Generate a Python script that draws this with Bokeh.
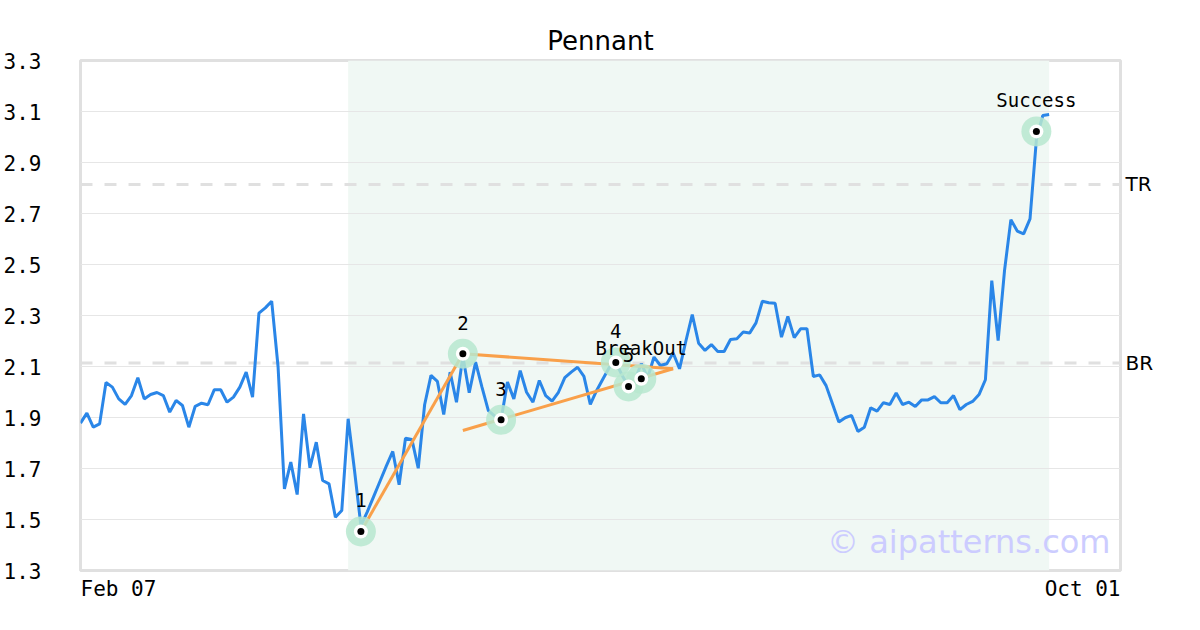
from bokeh.plotting import figure
from bokeh.models import Range1d, FixedTicker, BoxAnnotation, Span, Label, LinearAxis
from bokeh.core.properties import value
from bokeh.embed import file_html
from bokeh.resources import INLINE

title = "Pennant"
x_tick_labels = ["Feb 07", "Oct 01"]
x_end = 163.2  # index of Oct 01 (trading days since Feb 07)

prices = [
    1.878, 1.917, 1.862, 1.875, 2.037, 2.019, 1.973, 1.951, 1.986, 2.056,
    1.973, 1.990, 1.998, 1.986, 1.921, 1.967, 1.947, 1.862, 1.944, 1.956,
    1.950, 2.009, 2.009, 1.960, 1.980, 2.019, 2.078, 1.980, 2.309, 2.330,
    2.356, 2.100, 1.620, 1.725, 1.598, 1.914, 1.703, 1.803, 1.653, 1.640,
    1.509, 1.535, 1.895, 1.692, 1.476, 1.530, 1.590, 1.650, 1.710, 1.767,
    1.636, 1.819, 1.814, 1.701, 1.950, 2.065, 2.042, 1.912, 2.078, 1.960,
    2.140, 1.997, 2.117, 2.019, 1.927, 1.905, 1.891, 2.039, 1.973, 2.084,
    1.999, 1.960, 2.045, 1.986, 1.964, 1.999, 2.056, 2.078, 2.097, 2.061,
    1.951, 2.006, 2.052, 2.097, 2.116, 2.065, 2.022, 2.048, 2.111, 2.056,
    2.137, 2.104, 2.111, 2.153, 2.091, 2.200, 2.304, 2.191, 2.163, 2.186,
    2.159, 2.159, 2.206, 2.209, 2.235, 2.231, 2.271, 2.356, 2.350, 2.348,
    2.215, 2.296, 2.213, 2.248, 2.248, 2.061, 2.067, 2.025, 1.954, 1.882,
    1.899, 1.908, 1.845, 1.862, 1.938, 1.925, 1.958, 1.951, 1.996, 1.951,
    1.960, 1.943, 1.969, 1.969, 1.982, 1.958, 1.958, 1.986, 1.931, 1.951,
    1.963, 1.990, 2.048, 2.437, 2.202, 2.476, 2.676, 2.631, 2.620, 2.679,
    2.990, 3.084, 3.088,
]
days = list(range(len(prices)))

y_ticks = [1.3, 1.5, 1.7, 1.9, 2.1, 2.3, 2.5, 2.7, 2.9, 3.1, 3.3]
levels = [2.814, 2.114]
level_names = ["TR", "BR"]

pattern_start = 42
pattern_end = 152

point_idx = [44, 60, 66, 84, 86, 88, 150]
point_val = [1.453, 2.150, 1.891, 2.116, 2.022, 2.052, 3.022]
point_lbl = ["1", "2", "3", "4", "5", "BreakOut", "Success"]

trend_x0 = [44, 60, 60]
trend_y0 = [1.453, 2.150, 1.849]
trend_x1 = [60, 93, 93]
trend_y1 = [2.150, 2.091, 2.091]

watermark = "\u00a9 aipatterns.com"

MONO = "DejaVu Sans Mono"
W, H = 1190, 625
BL, BR_, BT, BB = 80, 70, 60, 55
TICK_FONT_PX = 21

p = figure(width=W, height=H,
           x_range=Range1d(0, x_end), y_range=Range1d(y_ticks[0], y_ticks[-1]),
           output_backend="svg", toolbar_location=None, x_axis_location=None,
           min_border_left=BL, min_border_right=BR_, min_border_top=BT, min_border_bottom=BB,
           title=title)
p.background_fill_color = "white"
p.border_fill_color = "white"
p.outline_line_color = "#e0e0e0"
p.outline_line_width = 3

p.title.text_font = "DejaVu Sans"
p.title.text_font_size = "26px"
p.title.text_font_style = "normal"
p.title.align = "center"
p.title.text_color = "black"
p.title.standoff = 10

yax = p.yaxis[0]
yax.ticker = FixedTicker(ticks=y_ticks)
yax.axis_line_color = None
yax.major_tick_line_color = None
yax.minor_tick_line_color = None
yax.major_label_standoff = 33
yax.major_label_text_font = MONO
yax.major_label_text_font_size = f"{TICK_FONT_PX}px"
yax.major_label_text_color = "black"

p.ygrid.ticker = FixedTicker(ticks=y_ticks)
p.ygrid.grid_line_color = "#e6e6e6"
p.ygrid.grid_line_width = 1
p.xgrid.visible = False

# bottom axis: first date label sits flush with the left edge, last flush with the right
frame_w = W - BL - BR_
units_per_px = x_end / frame_w
half_w = [len(s) * 0.602 * TICK_FONT_PX / 2 for s in x_tick_labels]
x_tick_pos = [0 + half_w[0] * units_per_px, x_end - half_w[1] * units_per_px]
bax = LinearAxis(ticker=FixedTicker(ticks=x_tick_pos),
                 major_label_overrides=dict(zip(x_tick_pos, x_tick_labels)))
bax.axis_line_color = None
bax.major_tick_line_color = None
bax.minor_tick_line_color = None
bax.major_tick_out = 0
bax.major_tick_in = 0
bax.major_label_standoff = 6
bax.major_label_text_font = MONO
bax.major_label_text_font_size = f"{TICK_FONT_PX}px"
bax.major_label_text_color = "black"
p.add_layout(bax, "below")

rax = LinearAxis(ticker=FixedTicker(ticks=levels),
                 major_label_overrides=dict(zip(levels, level_names)))
rax.axis_line_color = None
rax.major_tick_line_color = None
rax.minor_tick_line_color = None
rax.major_tick_out = 0
rax.major_tick_in = 0
rax.major_label_standoff = 5
rax.major_label_text_font = "DejaVu Sans"
rax.major_label_text_font_size = "20px"
rax.major_label_text_color = "black"
p.add_layout(rax, "right")

p.add_layout(BoxAnnotation(left=pattern_start, right=pattern_end, fill_color="#f0f8f4",
                           fill_alpha=1.0, line_color=None, level="image"))

for lv in levels:
    p.add_layout(Span(location=lv, dimension="width", line_color="#e0e0e0",
                      line_width=3, line_dash="12 12", level="underlay"))

p.line(days, prices, line_color="#2a86e8", line_width=3)
p.segment(trend_x0, trend_y0, trend_x1, trend_y1, line_color="#f9a04a", line_width=3)

p.scatter(point_idx, point_val, size=30, fill_color="#b7e7cf", fill_alpha=0.85, line_color=None)
p.scatter(point_idx, point_val, size=14, fill_color="white", line_color=None)
p.scatter(point_idx, point_val, size=7, fill_color="black", line_color=None)
p.text(point_idx, point_val, text=point_lbl, text_align="center", text_baseline="alphabetic",
       y_offset=-31, text_font=value(MONO), text_font_size="19px", text_color="black")

p.add_layout(Label(x=x_end, y=y_ticks[0], x_offset=-10, y_offset=29, text=watermark,
                   text_align="right", text_baseline="alphabetic", text_font="DejaVu Sans",
                   text_font_size="32px", text_color="#ccccff"))

open("out.html", "w").write(file_html(p, INLINE))
